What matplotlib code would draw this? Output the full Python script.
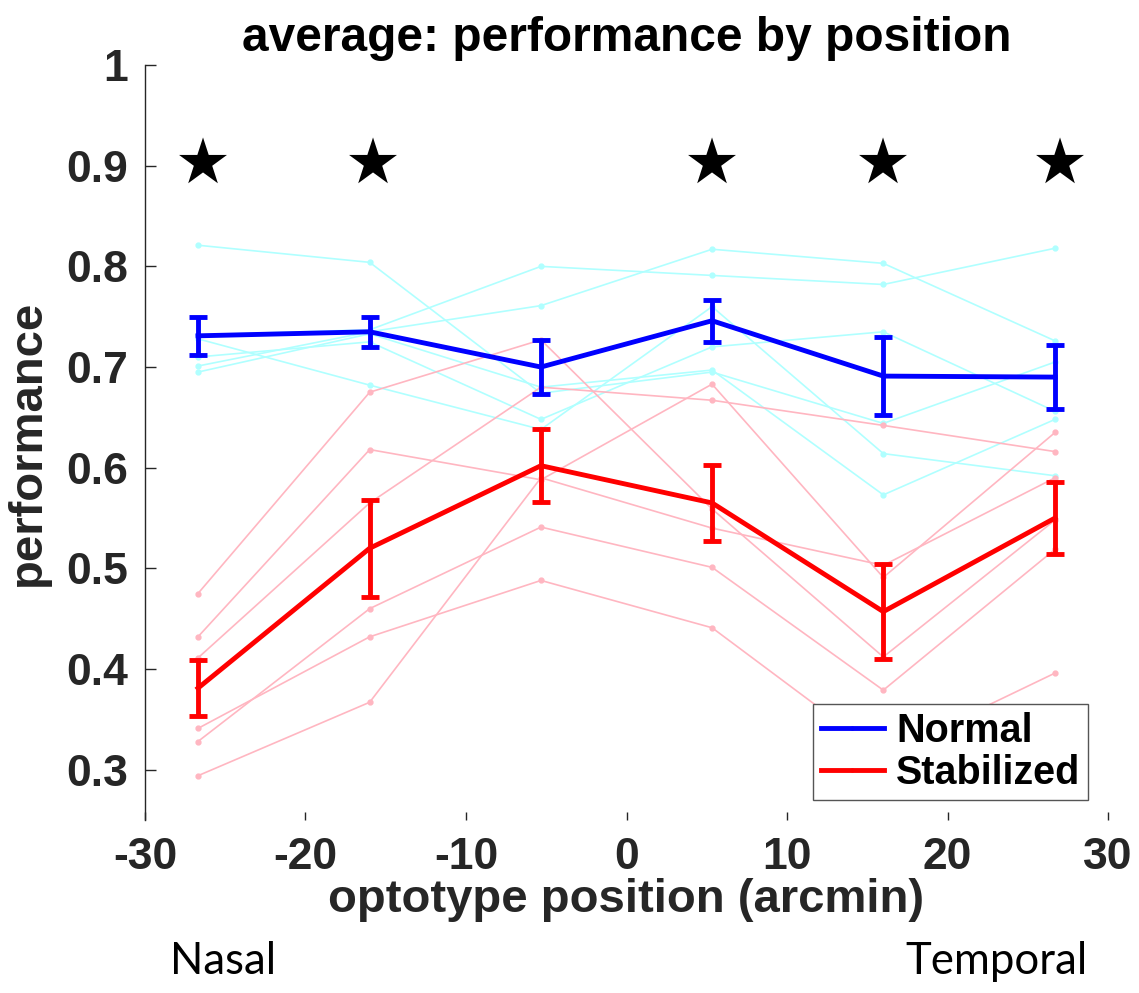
import numpy as np
import matplotlib
matplotlib.use("Agg")
import matplotlib.pyplot as plt
from matplotlib.lines import Line2D

# optotype positions (arcmin)
pos = [-26.7, -16.0, -5.33, 5.33, 16.0, 26.7]

# individual subjects, normal viewing
normal_subj = [
    [0.821, 0.804, 0.674, 0.695, 0.644, 0.705],
    [0.728, 0.682, 0.638, 0.760, 0.614, 0.592],
    [0.732, 0.737, 0.800, 0.791, 0.782, 0.818],
    [0.710, 0.725, 0.648, 0.720, 0.735, 0.656],
    [0.701, 0.735, 0.761, 0.817, 0.803, 0.726],
    [0.695, 0.733, 0.680, 0.697, 0.573, 0.648],
]
# individual subjects, stabilized
stab_subj = [
    [0.475, 0.675, 0.727, 0.559, 0.412, 0.548],
    [0.432, 0.618, 0.588, 0.683, 0.491, 0.635],
    [0.411, 0.565, 0.680, 0.667, 0.642, 0.616],
    [0.341, 0.432, 0.488, 0.441, 0.314, 0.396],
    [0.328, 0.460, 0.541, 0.501, 0.379, 0.519],
    [0.294, 0.367, 0.590, 0.540, 0.503, 0.590],
]

normal_mean = [0.731, 0.735, 0.700, 0.746, 0.691, 0.690]
normal_err = [0.019, 0.015, 0.027, 0.021, 0.039, 0.032]
stab_mean = [0.381, 0.520, 0.602, 0.565, 0.457, 0.550]
stab_err = [0.028, 0.048, 0.036, 0.038, 0.047, 0.036]

star_pos = [-26.4, -15.8, 5.33, 16.0, 27.0]
star_y = 0.9

plt.rcParams['font.family'] = ['Liberation Sans', 'DejaVu Sans']
plt.rcParams['font.weight'] = 'bold'
plt.rcParams['axes.unicode_minus'] = False

fig = plt.figure(figsize=(11.39, 9.93), dpi=100)
ax = fig.add_axes([0.1273, 0.1742, 0.8455, 0.7603])

for s in normal_subj:
    ax.plot(pos, s, color='#b0ffff', lw=1.2, marker='o', ms=3.5, zorder=1)
for s in stab_subj:
    ax.plot(pos, s, color='#ffb6c1', lw=1.2, marker='o', ms=3.5, zorder=1)

ax.errorbar(pos, normal_mean, yerr=normal_err, color='blue', lw=3.5,
            elinewidth=3.5, capsize=6.5, capthick=3.5, zorder=3)
ax.errorbar(pos, stab_mean, yerr=stab_err, color='red', lw=3.5,
            elinewidth=3.5, capsize=6.5, capthick=3.5, zorder=3)

for x in star_pos:
    ax.text(x, star_y, '\u2605', fontsize=45, ha='center', va='center',
            family='DejaVu Sans', color='black')

ax.set_xlim(-30, 30)
ax.set_ylim(0.25, 1)
ax.set_xticks([-30, -20, -10, 0, 10, 20, 30])
ax.set_yticks([0.3, 0.4, 0.5, 0.6, 0.7, 0.8, 0.9, 1])
ax.set_yticklabels(['0.3', '0.4', '0.5', '0.6', '0.7', '0.8', '0.9', '1'])
for side in ['top', 'right', 'bottom']:
    ax.spines[side].set_visible(False)
ax.spines['left'].set_color('#262626')
ax.spines['left'].set_linewidth(1)
ax.tick_params(axis='y', direction='in', length=8, width=1, colors='#262626',
               labelsize=32, pad=12)
ax.tick_params(axis='x', direction='in', length=6, width=1, colors='#262626',
               labelsize=32, pad=12)
for lab in ax.get_xticklabels() + ax.get_yticklabels():
    lab.set_fontweight('bold')

ax.set_title('average: performance by position', fontsize=34.5, fontweight='bold', pad=10)
ax.set_xlabel('optotype position (arcmin)', fontsize=34, fontweight='bold',
              color='#262626', labelpad=0)
ax.set_ylabel('performance', fontsize=34, fontweight='bold', color='#262626', labelpad=12)

handles = [Line2D([], [], color='blue', lw=3.5, marker='.', ms=4),
           Line2D([], [], color='red', lw=3.5, marker='.', ms=4)]
leg = ax.legend(handles, ['Normal', 'Stabilized'], loc='lower right',
                prop={'size': 28.5, 'weight': 'bold'}, fancybox=False,
                framealpha=1, edgecolor='#555555', handlelength=1.6,
                borderpad=0.2, labelspacing=0.1, handletextpad=0.3,
                borderaxespad=0.5)
leg.get_frame().set_linewidth(1)

fig.text(223 / 1139, 1 - 962 / 993, 'Nasal', fontsize=31.5, family='Lato',
         fontweight='normal', ha='center', va='center')
fig.text(997 / 1139, 1 - 962 / 993, 'Temporal', fontsize=31.5, family='Lato',
         fontweight='normal', ha='center', va='center')

fig.savefig('out.png', dpi=100)
